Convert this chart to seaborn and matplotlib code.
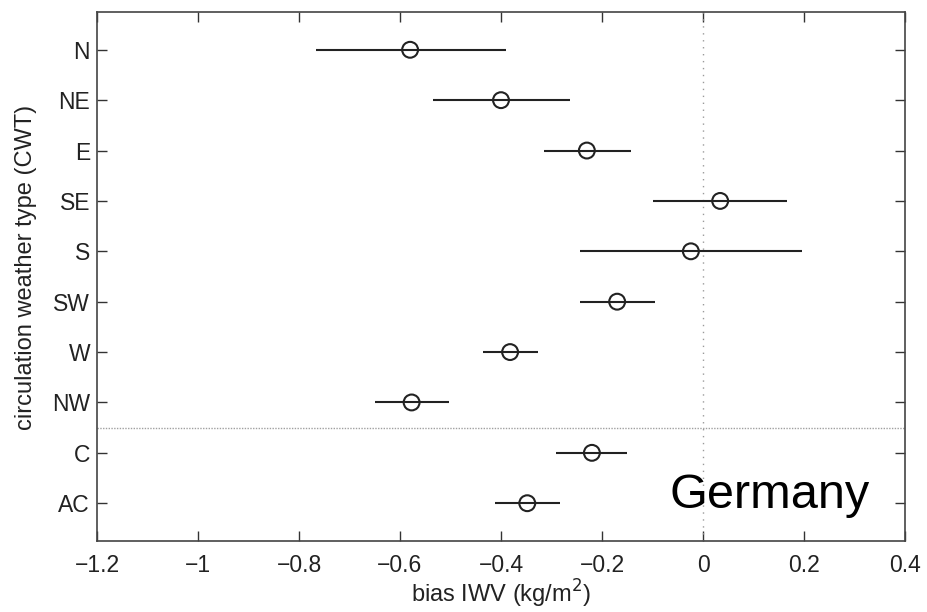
import numpy as np
import pandas as pd
import matplotlib
matplotlib.use("Agg")
import matplotlib.pyplot as plt
import seaborn as sns

# ---- data ----
categories = ["N", "NE", "E", "SE", "S", "SW", "W", "NW", "C", "AC"]
bias = [-0.580, -0.400, -0.230, 0.034, -0.024, -0.170, -0.382, -0.577, -0.220, -0.348]
lower = [-0.766, -0.535, -0.315, -0.100, -0.244, -0.244, -0.436, -0.650, -0.291, -0.412]
upper = [-0.390, -0.263, -0.143, 0.167, 0.197, -0.095, -0.327, -0.503, -0.151, -0.283]
xticks = [-1.2, -1.0, -0.8, -0.6, -0.4, -0.2, 0.0, 0.2, 0.4]
xtick_labels = ["\u22121.2", "\u22121", "\u22120.8", "\u22120.6", "\u22120.4", "\u22120.2", "0", "0.2", "0.4"]

df = pd.DataFrame({"cwt": categories, "bias": bias, "lo": lower, "hi": upper})
df["pos"] = np.arange(1, len(categories) + 1)

sns.set_theme(style="white")
plt.rcParams["font.family"] = ["Liberation Sans", "DejaVu Sans"]

fig = plt.figure(figsize=(9.27, 6.12), dpi=100)
ax = fig.add_axes([97 / 927, 71 / 612, 808 / 927, 529 / 612])

# reference lines
ax.axvline(0, color="#9a9a9a", lw=1.0, ls=(0, (1, 4)), zorder=1)
ax.axhline(8.5, color="#a0a0a0", lw=1.0, ls=(0, (1, 1)), zorder=1)

# error bars
ax.hlines(df["pos"], df["lo"], df["hi"], color="#222222", lw=1.5, zorder=2)

# markers
sns.scatterplot(data=df, x="bias", y="pos", ax=ax, s=130, marker="o",
                facecolor="none", edgecolor="#222222", linewidth=1.5, zorder=3,
                legend=False)

ax.set_xlim(-1.2, 0.4)
ax.set_ylim(10.75, 0.25)
ax.set_xticks(xticks)
ax.set_xticklabels(xtick_labels)
ax.set_yticks(df["pos"])
ax.set_yticklabels(categories)

ax.tick_params(axis="both", which="both", direction="in", length=7, width=1,
               color="#333333", labelsize=16.5, labelcolor="#222222",
               top=True, right=True, bottom=True, left=True)
ax.tick_params(axis="x", pad=9)
ax.tick_params(axis="y", pad=5)
for s in ax.spines.values():
    s.set_color("#444444")
    s.set_linewidth(1.2)

ax.set_xlabel("bias IWV (kg/m$^2$)", fontsize=17, color="#222222", labelpad=1)
ax.set_ylabel("circulation weather type (CWT)", fontsize=17, color="#222222")
ax.yaxis.set_label_coords(-0.074, 0.517)

ax.text(0.33, 10.1, "Germany", fontsize=35, color="black", ha="right", va="baseline")

fig.savefig("out.png", dpi=100)
